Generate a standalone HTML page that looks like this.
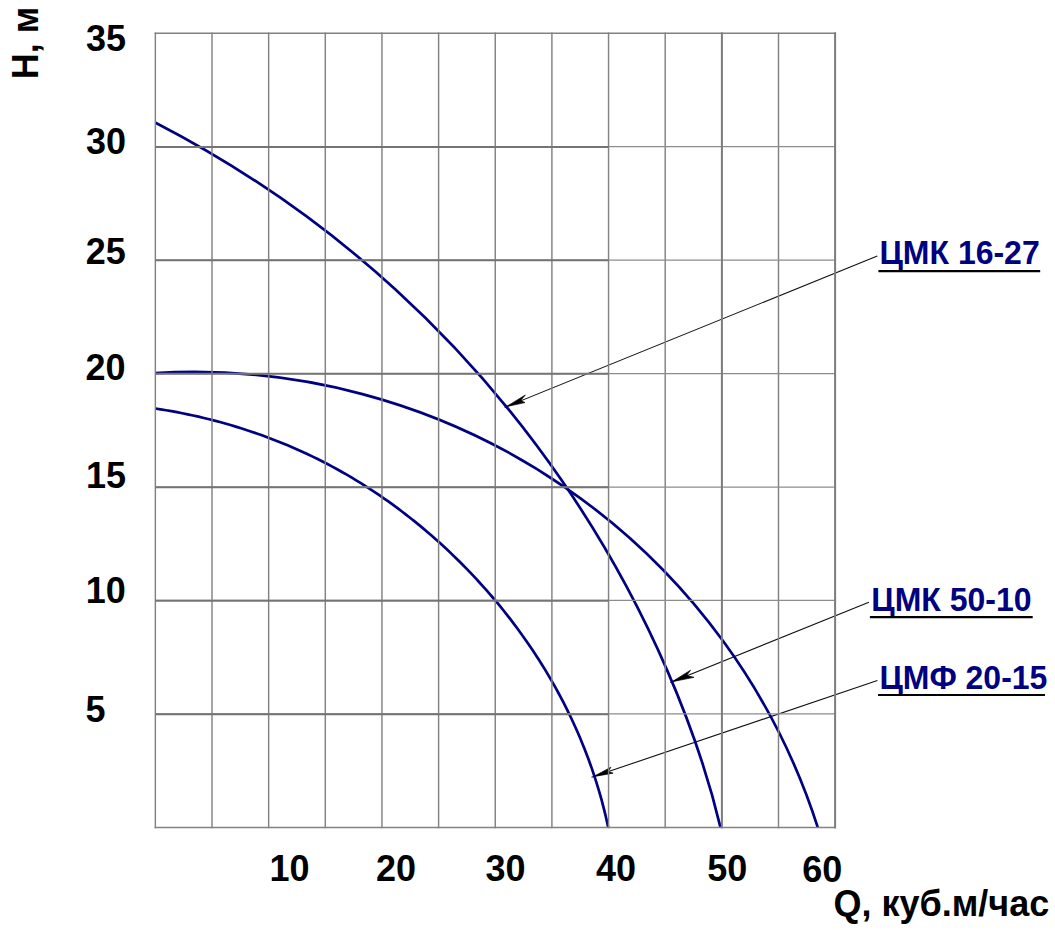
<!DOCTYPE html>
<html lang="ru"><head><meta charset="utf-8"><title>Chart</title>
<style>html,body{margin:0;padding:0;background:#fff}svg{display:block}text{font-family:"Liberation Sans",sans-serif;font-weight:bold}</style></head><body>
<svg width="1055" height="930" viewBox="0 0 1055 930">
<rect width="1055" height="930" fill="#fff"/>
<g><line x1="504.63" y1="407.38" x2="877.30" y2="256.00" stroke="#111" stroke-width="1.1"/><path d="M506.30 406.70L525.29 394.99L520.66 400.60L525.01 402.55Z" fill="#000" stroke="#000" stroke-width="0.7" stroke-linejoin="miter" stroke-miterlimit="10"/><line x1="670.39" y1="682.43" x2="868.90" y2="602.20" stroke="#111" stroke-width="1.1"/><path d="M672.06 681.76L690.57 670.18L686.50 675.60L693.99 677.32Z" fill="#000" stroke="#000" stroke-width="0.7" stroke-linejoin="miter" stroke-miterlimit="10"/><line x1="591.50" y1="777.28" x2="877.40" y2="680.50" stroke="#111" stroke-width="1.1"/><path d="M593.20 776.70L610.90 767.23L608.13 771.54L613.11 773.13Z" fill="#000" stroke="#000" stroke-width="0.7" stroke-linejoin="miter" stroke-miterlimit="10"/></g>
<defs><clipPath id="plot"><rect x="155.05" y="33.25" width="680.10" height="794.50"/></clipPath></defs>
<g stroke="#000080" stroke-width="2.70" fill="none" stroke-linejoin="round" clip-path="url(#plot)"><path d="M154.56 122.16C529.36 315.65 678.60 651.35 720.47 827.36"/><path d="M153.50 373.22A655.28 655.28 0 0 1 818.28 828.95"/><path d="M155.20 408.51L160.63 409.34L166.06 410.23L171.49 411.18L176.90 412.17L182.31 413.22L187.71 414.32L193.09 415.48L198.47 416.69L203.84 417.95L209.19 419.26L214.53 420.63L219.86 422.05L225.18 423.52L230.48 425.05L235.76 426.63L241.03 428.26L246.28 429.94L251.52 431.68L256.73 433.47L261.93 435.31L267.11 437.21L272.26 439.16L277.40 441.16L282.51 443.21L287.61 445.32L292.68 447.48L297.72 449.69L302.74 451.95L307.74 454.27L312.71 456.64L317.65 459.06L322.56 461.53L327.45 464.06L332.31 466.64L337.14 469.27L341.94 471.95L346.72 474.68L351.46 477.46L356.17 480.29L360.85 483.17L365.51 486.10L370.13 489.08L374.72 492.10L379.28 495.18L383.81 498.30L388.31 501.46L392.78 504.67L397.21 507.93L401.61 511.23L405.98 514.57L410.32 517.96L414.63 521.39L418.90 524.86L423.13 528.38L427.34 531.93L431.51 535.53L435.65 539.17L439.75 542.84L443.81 546.56L447.85 550.32L451.84 554.11L455.81 557.94L459.73 561.81L463.62 565.72L467.48 569.66L471.30 573.64L475.08 577.66L478.82 581.71L482.53 585.79L486.19 589.91L489.82 594.07L493.41 598.25L496.96 602.48L500.47 606.73L503.93 611.02L507.36 615.34L510.74 619.69L514.08 624.08L517.38 628.49L520.63 632.94L523.84 637.42L527.01 641.93L530.12 646.47L533.20 651.04L536.23 655.64L539.21 660.27L542.14 664.93L545.03 669.62L547.86 674.34L550.65 679.08L553.39 683.85L556.08 688.65L558.72 693.48L561.31 698.33L563.84 703.21L566.33 708.12L568.76 713.05L571.14 718.01L573.47 722.99L575.74 728.00L577.96 733.03L580.13 738.09L582.24 743.17L584.29 748.27L586.29 753.39L588.24 758.54L590.12 763.71L591.95 768.90L593.72 774.11L595.44 779.34L597.09 784.59L598.69 789.87L600.23 795.16L601.71 800.47L603.13 805.80L604.48 811.15L605.78 816.52L607.02 821.90L608.19 827.31"/></g>
<g stroke="#828282" stroke-width="1.45" fill="none"><line x1="155.35" y1="32.55" x2="155.35" y2="828.15"/><line x1="212.00" y1="32.55" x2="212.00" y2="828.15"/><line x1="268.65" y1="32.55" x2="268.65" y2="828.15"/><line x1="325.30" y1="32.55" x2="325.30" y2="828.15"/><line x1="381.95" y1="32.55" x2="381.95" y2="828.15"/><line x1="438.60" y1="32.55" x2="438.60" y2="828.15"/><line x1="495.25" y1="32.55" x2="495.25" y2="828.15"/><line x1="551.90" y1="32.55" x2="551.90" y2="828.15"/><line x1="608.55" y1="32.55" x2="608.55" y2="828.15"/><line x1="665.20" y1="32.55" x2="665.20" y2="828.15"/><line x1="721.85" y1="32.55" x2="721.85" y2="828.15"/><line x1="778.50" y1="32.55" x2="778.50" y2="828.15"/><line x1="835.15" y1="32.55" x2="835.15" y2="828.15"/><line x1="154.65" y1="33.25" x2="835.85" y2="33.25"/><line x1="154.65" y1="827.45" x2="835.85" y2="827.45"/></g><g stroke="#8c8c8c" stroke-width="1.25" fill="none"><line x1="155.35" y1="146.66" x2="835.15" y2="146.66"/><line x1="155.35" y1="260.11" x2="835.15" y2="260.11"/><line x1="155.35" y1="373.57" x2="835.15" y2="373.57"/><line x1="155.35" y1="487.03" x2="835.15" y2="487.03"/><line x1="155.35" y1="600.49" x2="835.15" y2="600.49"/><line x1="155.35" y1="713.94" x2="835.15" y2="713.94"/></g>
<g stroke="#7c7c7c" stroke-width="1.9" fill="none"><line x1="721.85" y1="32.55" x2="721.85" y2="828.15"/><line x1="835.15" y1="32.55" x2="835.15" y2="828.15"/></g>
<g stroke="#747474" stroke-width="2" fill="none"><line x1="155.35" y1="146.91" x2="608.55" y2="146.91"/><line x1="155.35" y1="260.36" x2="608.55" y2="260.36"/><line x1="155.35" y1="373.82" x2="608.55" y2="373.82"/><line x1="155.35" y1="487.28" x2="608.55" y2="487.28"/><line x1="155.35" y1="600.74" x2="608.55" y2="600.74"/><line x1="155.35" y1="714.19" x2="608.55" y2="714.19"/></g>
<g><text transform="translate(85.90 50.70) scale(1 1.040)" font-size="36" fill="#000">35</text><text transform="translate(86.00 153.70) scale(1 1.040)" font-size="36" fill="#000">30</text><text transform="translate(85.70 263.90) scale(1 1.040)" font-size="36" fill="#000">25</text><text transform="translate(85.60 379.90) scale(1 1.040)" font-size="36" fill="#000">20</text><text transform="translate(85.90 487.90) scale(1 1.040)" font-size="36" fill="#000">15</text><text transform="translate(85.80 602.80) scale(1 1.040)" font-size="36" fill="#000">10</text><text transform="translate(85.50 721.80) scale(1 1.040)" font-size="36" fill="#000">5</text><text transform="translate(269.40 881.00) scale(1 1.040)" font-size="36" fill="#000">10</text><text transform="translate(375.90 881.00) scale(1 1.040)" font-size="36" fill="#000">20</text><text transform="translate(485.40 881.00) scale(1 1.040)" font-size="36" fill="#000">30</text><text transform="translate(596.10 881.00) scale(1 1.040)" font-size="36" fill="#000">40</text><text transform="translate(707.30 881.00) scale(1 1.040)" font-size="36" fill="#000">50</text><text transform="translate(802.20 882.20) scale(1 1.040)" font-size="36" fill="#000">60</text><text transform="translate(833.40 916.10) scale(1 1.040)" font-size="36" fill="#000">Q, куб.м/час</text><text transform="translate(879.50 263.60) scale(1 1.040)" font-size="32" fill="#000080">ЦМК 16-27</text><text transform="translate(871.30 610.80) scale(1 1.040)" font-size="32" fill="#000080">ЦМК 50-10</text><text transform="translate(879.40 689.00) scale(1 1.040)" font-size="32" fill="#000080">ЦМФ 20-15</text><text transform="translate(38.40 79.20) rotate(-90) scale(1 1.040)" font-size="36" fill="#000">H, м</text></g>
<g stroke="#000" stroke-width="2.1"><line x1="878.40" y1="271.10" x2="1040.20" y2="271.10"/><line x1="869.90" y1="617.15" x2="1032.70" y2="617.15"/><line x1="878.00" y1="695.05" x2="1045.00" y2="695.05"/></g>
</svg></body></html>
